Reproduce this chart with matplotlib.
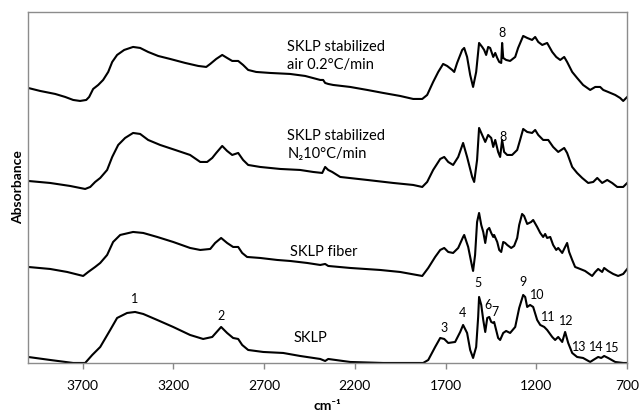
import matplotlib
matplotlib.use("Agg")
import matplotlib.pyplot as plt

plt.rcParams["font.family"] = ["Lato", "DejaVu Sans"]

# wavenumber (cm-1) and stacked absorbance
air_wn = [4000, 3934, 3851, 3796, 3752, 3714, 3680, 3664, 3642, 3614,
          3587, 3559, 3537, 3510, 3471, 3422, 3383, 3339, 3284, 3218,
          3135, 3063, 3019, 2997, 2964, 2931, 2904, 2876, 2843, 2816,
          2788, 2744, 2667, 2557, 2474, 2391, 2375, 2364, 2347, 2320,
          2226, 2132, 2044, 1951, 1879, 1829, 1802, 1769, 1741, 1714,
          1692, 1664, 1653, 1637, 1609, 1598, 1582, 1565, 1549, 1532,
          1516, 1499, 1488, 1477, 1466, 1455, 1438, 1427, 1416, 1405,
          1394, 1389, 1383, 1367, 1345, 1317, 1301, 1273, 1251, 1224,
          1207, 1190, 1168, 1141, 1113, 1091, 1069, 1047, 1031, 1003,
          976, 943, 904, 876, 849, 832, 805, 766, 739, 722, 700]
air_abs = [2.75, 2.72, 2.69, 2.66, 2.63, 2.62, 2.63, 2.66, 2.74, 2.78,
           2.83, 2.91, 3.01, 3.08, 3.13, 3.16, 3.15, 3.11, 3.07, 3.04,
           3.00, 2.97, 2.96, 2.99, 3.04, 3.08, 3.05, 3.02, 3.02, 2.98,
           2.93, 2.91, 2.90, 2.89, 2.87, 2.83, 2.83, 2.80, 2.79, 2.78,
           2.76, 2.73, 2.70, 2.67, 2.64, 2.64, 2.68, 2.81, 2.91, 2.99,
           2.97, 2.93, 2.91, 3.00, 3.13, 3.15, 3.06, 2.88, 2.76, 2.91,
           3.20, 3.16, 3.13, 3.08, 3.16, 3.15, 3.06, 3.10, 3.05, 3.01,
           3.00, 3.20, 3.05, 3.03, 3.02, 3.06, 3.15, 3.27, 3.25, 3.23,
           3.26, 3.21, 3.18, 3.20, 3.11, 3.06, 3.03, 3.06, 3.01, 2.91,
           2.85, 2.78, 2.73, 2.76, 2.76, 2.73, 2.71, 2.68, 2.65, 2.62, 2.66]

n2_wn = [4000, 3879, 3769, 3714, 3686, 3658, 3631, 3603, 3565, 3537,
         3504, 3466, 3422, 3383, 3339, 3273, 3190, 3108, 3052, 3014,
         2986, 2964, 2931, 2904, 2876, 2843, 2816, 2788, 2722, 2612,
         2502, 2430, 2380, 2364, 2347, 2325, 2281, 2132, 1989, 1879,
         1829, 1802, 1769, 1730, 1708, 1686, 1659, 1631, 1604, 1582,
         1554, 1543, 1527, 1516, 1499, 1482, 1466, 1449, 1438, 1427,
         1411, 1400, 1389, 1378, 1361, 1334, 1306, 1290, 1273, 1251,
         1224, 1207, 1190, 1163, 1135, 1108, 1080, 1047, 1031, 1003,
         976, 948, 915, 887, 865, 838, 810, 783, 755, 722, 700]
n2_abs = [1.82, 1.80, 1.77, 1.75, 1.74, 1.76, 1.81, 1.85, 1.93, 2.06,
          2.18, 2.25, 2.30, 2.29, 2.23, 2.18, 2.13, 2.08, 2.01, 2.01,
          2.05, 2.10, 2.17, 2.12, 2.08, 2.10, 2.03, 1.98, 1.96, 1.94,
          1.93, 1.91, 1.90, 1.96, 1.93, 1.91, 1.86, 1.83, 1.80, 1.78,
          1.76, 1.81, 1.93, 2.04, 2.06, 2.01, 1.98, 2.06, 2.20, 2.06,
          1.86, 1.81, 2.03, 2.35, 2.28, 2.21, 2.28, 2.25, 2.16, 2.23,
          2.11, 2.06, 2.23, 2.11, 2.08, 2.08, 2.13, 2.23, 2.34, 2.31,
          2.30, 2.33, 2.28, 2.23, 2.23, 2.16, 2.11, 2.15, 2.10, 1.96,
          1.90, 1.85, 1.80, 1.81, 1.85, 1.80, 1.83, 1.80, 1.76, 1.76, 1.80]

fiber_wn = [4000, 3879, 3785, 3697, 3669, 3631, 3603, 3565, 3532, 3493,
            3422, 3366, 3289, 3201, 3108, 3052, 2997, 2970, 2937, 2904,
            2871, 2843, 2821, 2794, 2722, 2628, 2557, 2463, 2391, 2364,
            2347, 2226, 2061, 1951, 1829, 1796, 1758, 1730, 1708, 1686,
            1659, 1631, 1604, 1598, 1576, 1554, 1549, 1538, 1527, 1516,
            1504, 1493, 1482, 1471, 1460, 1449, 1438, 1433, 1416, 1405,
            1394, 1383, 1372, 1361, 1339, 1323, 1306, 1295, 1279, 1268,
            1251, 1229, 1218, 1196, 1179, 1163, 1152, 1141, 1124, 1108,
            1091, 1080, 1058, 1042, 1031, 1020, 1003, 987, 959, 932,
            893, 876, 860, 838, 827, 805, 777, 750, 722, 700]
fiber_abs = [0.96, 0.94, 0.91, 0.87, 0.91, 0.96, 1.00, 1.08, 1.21, 1.28,
             1.31, 1.30, 1.26, 1.21, 1.15, 1.13, 1.14, 1.20, 1.25, 1.20,
             1.16, 1.16, 1.10, 1.06, 1.05, 1.03, 1.02, 1.00, 0.98, 0.99,
             0.97, 0.95, 0.93, 0.91, 0.87, 0.95, 1.06, 1.13, 1.15, 1.11,
             1.10, 1.15, 1.26, 1.28, 1.16, 0.96, 0.92, 1.08, 1.41, 1.50,
             1.38, 1.31, 1.20, 1.33, 1.35, 1.30, 1.26, 1.28, 1.21, 1.13,
             1.11, 1.21, 1.20, 1.18, 1.15, 1.17, 1.25, 1.38, 1.49, 1.47,
             1.39, 1.41, 1.43, 1.36, 1.30, 1.26, 1.29, 1.25, 1.26, 1.18,
             1.13, 1.15, 1.10, 1.16, 1.20, 1.11, 1.03, 0.96, 0.94, 0.92,
             0.87, 0.91, 0.94, 0.91, 0.95, 0.92, 0.89, 0.87, 0.89, 0.94]

sklp_wn = [4000, 3879, 3752, 3686, 3647, 3603, 3548, 3510, 3455, 3411,
           3366, 3289, 3201, 3108, 3036, 2986, 2937, 2904, 2871, 2843,
           2821, 2788, 2705, 2595, 2502, 2391, 2364, 2347, 2226, 2044,
           1824, 1796, 1758, 1730, 1708, 1686, 1648, 1620, 1604, 1582,
           1565, 1549, 1532, 1521, 1516, 1504, 1493, 1482, 1471, 1460,
           1449, 1438, 1433, 1422, 1411, 1400, 1383, 1367, 1345, 1317,
           1295, 1273, 1262, 1251, 1235, 1218, 1196, 1179, 1157, 1141,
           1113, 1097, 1080, 1058, 1042, 1025, 1003, 976, 943, 904,
           887, 860, 843, 827, 805, 766, 722, 700]
sklp_abs = [0.06, 0.03, 0.00, 0.00, 0.08, 0.16, 0.33, 0.45, 0.50, 0.51,
            0.49, 0.43, 0.36, 0.28, 0.24, 0.26, 0.36, 0.30, 0.25, 0.24,
            0.18, 0.13, 0.11, 0.10, 0.07, 0.04, 0.02, 0.04, 0.01, 0.00,
            0.00, 0.03, 0.16, 0.25, 0.24, 0.20, 0.21, 0.31, 0.38, 0.30,
            0.13, 0.05, 0.16, 0.46, 0.66, 0.58, 0.43, 0.31, 0.45, 0.46,
            0.41, 0.40, 0.41, 0.33, 0.25, 0.23, 0.30, 0.32, 0.30, 0.36,
            0.55, 0.68, 0.66, 0.56, 0.58, 0.56, 0.43, 0.38, 0.36, 0.33,
            0.26, 0.23, 0.26, 0.21, 0.31, 0.20, 0.10, 0.06, 0.05, 0.01,
            0.03, 0.06, 0.05, 0.07, 0.05, 0.01, 0.00, 0.00]

# peak numbers (label, wavenumber, height)
peak_labels = ["1", "2", "3", "4", "5", "6", "7", "9", "10", "11", "12", "13", "14", "15"]
peak_wn = [3416, 2937, 1708, 1609, 1521, 1466, 1427, 1273, 1196, 1135, 1036, 965, 872, 785]
peak_y = [0.64, 0.47, 0.35, 0.50, 0.80, 0.58, 0.51, 0.81, 0.68, 0.46, 0.42, 0.16, 0.16, 0.15]
band8_wn = [1389, 1383]
band8_y = [3.30, 2.26]

x_ticks = [3700, 3200, 2700, 2200, 1700, 1200, 700]

fig = plt.figure(figsize=(6.4, 4.12), dpi=100)
ax = fig.add_axes([0.044, 0.119, 0.936, 0.852])

for wn, ab in [(air_wn, air_abs), (n2_wn, n2_abs), (fiber_wn, fiber_abs), (sklp_wn, sklp_abs)]:
    ax.plot(wn, ab, color="black", linewidth=1.5)

for lab, w, y in zip(peak_labels, peak_wn, peak_y):
    ax.text(w, y, lab, ha="center", va="center", fontsize=9)
for w, y in zip(band8_wn, band8_y):
    ax.text(w, y, "8", ha="center", va="center", fontsize=9)

ax.text(2573, 3.07, "SKLP stabilized\nair 0.2°C/min", ha="left", va="center",
        fontsize=10.5, linespacing=1.3)
ax.text(2573, 2.18, "SKLP stabilized\nN₂10°C/min", ha="left", va="center",
        fontsize=10.5, linespacing=1.3)
ax.text(2557, 1.11, "SKLP fiber", ha="left", va="center", fontsize=10.5)
ax.text(2540, 0.25, "SKLP", ha="left", va="center", fontsize=10.5)

ax.set_xlim(4000, 700)
ax.set_ylim(0, 3.51)
ax.set_xticks(x_ticks)
ax.set_yticks([])
ax.tick_params(axis="x", direction="out", length=4, width=1, color="#888888",
               pad=8, labelsize=10)
for sp in ax.spines.values():
    sp.set_color("#8c8c8c")
    sp.set_linewidth(1)

ax.set_xlabel("cm⁻¹", fontweight="bold", fontsize=10, labelpad=6)
ax.set_ylabel("Absorbance", fontweight="bold", fontsize=10, labelpad=3)

fig.savefig("out.png", dpi=100)
